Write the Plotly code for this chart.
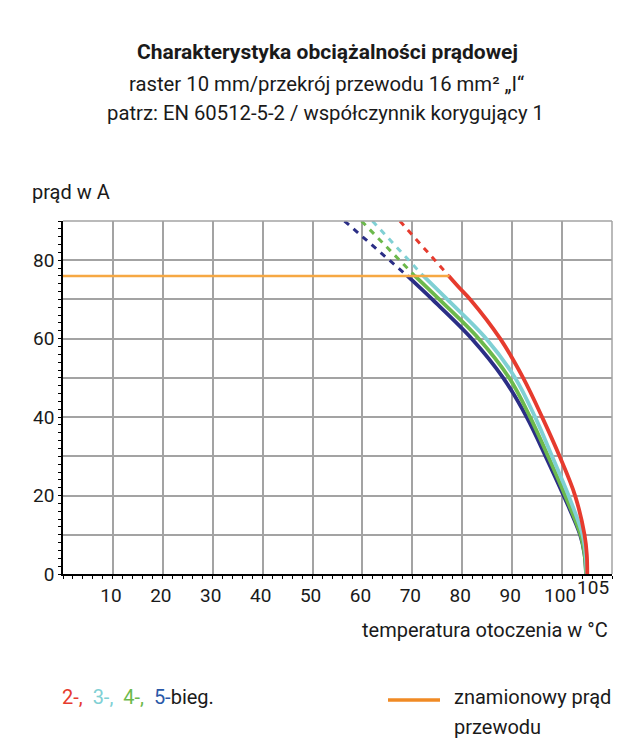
import plotly.graph_objects as go

# ---- data ----
rated_T = [0, 77.4]
rated_I = [76, 76]

red_dash_T = [67.5, 77.3]
red_dash_I = [90, 76]
cyan_dash_T = [62.0, 72.2]
cyan_dash_I = [90, 76]
green_dash_T = [59.8, 70.5]
green_dash_I = [90, 76]
blue_dash_T = [56.4, 69.0]
blue_dash_I = [90, 76]

red_T = [77.3, 79.4, 81.6, 87.6, 92.2, 96.0, 99.5, 102.6, 104.5, 104.95, 105.05]
red_I = [76.0, 73.0, 70.0, 60.0, 50.0, 40.0, 30.0, 20.0, 10.0, 5.0, 0.0]
cyan_T = [72.2, 77.0, 84.8, 90.6, 94.6, 98.0, 101.3, 104.1, 104.7, 104.9]
cyan_I = [76.0, 70.0, 60.0, 50.0, 40.0, 30.0, 20.0, 10.0, 5.0, 0.0]
green_T = [70.5, 75.4, 83.3, 89.4, 93.6, 97.2, 100.6, 103.7, 104.5, 104.8]
green_I = [76.0, 70.0, 60.0, 50.0, 40.0, 30.0, 20.0, 10.0, 5.0, 0.0]
blue_T = [69.0, 74.0, 81.9, 88.2, 92.9, 96.7, 100.3, 103.6, 104.5, 104.8]
blue_I = [76.0, 70.0, 60.0, 50.0, 40.0, 30.0, 20.0, 10.0, 5.0, 0.0]

x_ticks = [0, 10, 20, 30, 40, 50, 60, 70, 80, 90, 100, 110]
x_labels = ["", "10", "20", "30", "40", "50", "60", "70", "80", "90", "100", ""]
y_ticks = [0, 10, 20, 30, 40, 50, 60, 70, 80, 90]
y_labels = ["0", "", "20", "", "40", "", "60", "", "80", ""]

RED = "#e63b2e"
CYAN = "#80d0d4"
GREEN = "#6cb94c"
BLUE = "#2b2e86"
ORANGE = "#f6a843"
FONT = "Roboto, Liberation Sans, sans-serif"

# page has an 8px body margin; figure sized to fit the 642x754 window
OFF = 8
W, H = 626, 738
PL, PR, PT, PB = 63, 612, 221, 574  # plot area in window pixels

fig = go.Figure()
for t, i, c in [(blue_dash_T, blue_dash_I, BLUE), (green_dash_T, green_dash_I, GREEN),
                (cyan_dash_T, cyan_dash_I, CYAN), (red_dash_T, red_dash_I, RED)]:
    fig.add_trace(go.Scatter(x=t, y=i, mode="lines", line=dict(color=c, width=3, dash="6px,6px"),
                             hoverinfo="skip", showlegend=False))
for t, i, c in [(blue_T, blue_I, BLUE), (green_T, green_I, GREEN),
                (cyan_T, cyan_I, CYAN), (red_T, red_I, RED)]:
    fig.add_trace(go.Scatter(x=t, y=i, mode="lines", line=dict(color=c, width=3.8, shape="spline", smoothing=1.0),
                             showlegend=False))
fig.add_trace(go.Scatter(x=rated_T, y=rated_I, mode="lines", line=dict(color=ORANGE, width=2.5),
                         showlegend=False))
fig.add_trace(go.Scatter(x=[105], y=[0], xaxis="x2", mode="markers", marker=dict(opacity=0),
                         showlegend=False, hoverinfo="skip"))

GRID = "#a3a3a3"
fig.update_layout(
    width=W, height=H,
    margin=dict(l=PL - OFF, r=OFF + W - PR, t=PT - OFF, b=OFF + H - PB),
    paper_bgcolor="white", plot_bgcolor="white",
    font=dict(family=FONT, size=19, color="#1a1a1a"),
    xaxis=dict(range=[0, 110], tickvals=x_ticks, ticktext=x_labels, showgrid=True,
               gridcolor=GRID, gridwidth=1.5, zeroline=False, showline=True, linecolor="black",
               linewidth=1.5, ticks="outside", ticklen=3, tickcolor="black",
               ticklabelshift=-2,
               minor=dict(dtick=2, ticks="outside", ticklen=3, tickcolor="black", showgrid=False)),
    xaxis2=dict(range=[0, 110], overlaying="x", side="bottom", tickvals=[105], ticktext=["105"],
                showgrid=False, zeroline=False, showline=False, ticks="", anchor="y",
                ticklabelshift=6),
    yaxis=dict(range=[0, 90], tickvals=y_ticks, ticktext=y_labels, showgrid=True,
               gridcolor=GRID, gridwidth=1.5, zeroline=False, showline=True, linecolor="black",
               linewidth=1.5, ticks="outside", ticklen=3, tickcolor="black",
               minor=dict(dtick=2, ticks="outside", ticklen=3, tickcolor="black", showgrid=False)),
    showlegend=False,
)

fig.add_shape(type="line", xref="paper", yref="paper", x0=0, x1=1, y0=1, y1=1,
              line=dict(color=GRID, width=1.5))
fig.add_shape(type="line", xref="paper", yref="paper", x0=1, x1=1, y0=0, y1=1,
              line=dict(color=GRID, width=1.5))

def px(xp):
    return (xp - PL) / (PR - PL)
def py(yp):
    return (PB - yp) / (PB - PT)

def ann(text, x, y, size=20, xanchor="center", color="#1a1a1a"):
    fig.add_annotation(text=text, xref="paper", yref="paper", x=px(x), y=py(y), showarrow=False,
                       xanchor=xanchor, yanchor="middle", font=dict(size=size, color=color, family=FONT))

ann("<b>Charakterystyka obciążalności prądowej</b>", 327, 52, size=21)
ann("raster 10 mm/przekrój przewodu 16 mm² „I“", 326, 84, size=20.3)
ann("patrz: EN 60512-5-2 / współczynnik korygujący 1", 325, 113, size=20.3)
ann("prąd w A", 30, 192, xanchor="left")
ann("temperatura otoczenia w °C", 610, 630, xanchor="right")
ann("<span style='color:%s'>2-,</span>&nbsp; <span style='color:%s'>3-,</span>&nbsp; "
    "<span style='color:%s'>4-,</span>&nbsp; <span style='color:#2a58a8'>5-</span>bieg." % (RED, CYAN, GREEN),
    60, 697, xanchor="left")
fig.add_shape(type="line", xref="paper", yref="paper", x0=px(388), x1=px(440), y0=py(700), y1=py(700),
              line=dict(color="#f08a24", width=3.5))
ann("znamionowy prąd", 452, 697, xanchor="left")
ann("przewodu", 452, 727, xanchor="left")

fig.write_html("out.html")
